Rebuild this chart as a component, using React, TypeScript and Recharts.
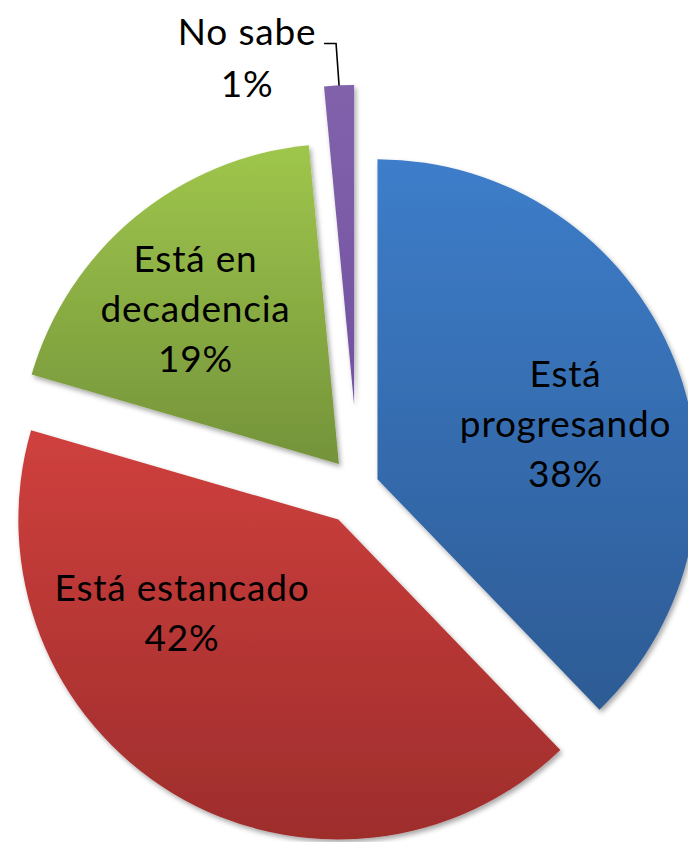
import { PieChart, Pie, Cell } from 'recharts';

const names = ['Está progresando', 'Está estancado', 'Está en decadencia', 'No sabe'];
const shares = [37.8, 41.7, 19.0, 1.5];
const pctLabels = ['38%', '42%', '19%', '1%'];
const labelLines = [['Está', 'progresando'], ['Está estancado'], ['Está en', 'decadencia'], ['No sabe']];

// how far each slice is pulled out of the pie, px
const explodeBy = [21, 38, 30, 82];
// nudges for the inside labels, px
const labelNudge = [[10, 18], [-57, -70], [-21, -6], [0, 0]];
const topColors = ['#3d7dca', '#cf403d', '#9fc64c', '#8262ab'];
const bottomColors = ['#2d5b94', '#9e2d2c', '#74933a', '#7252a1'];

const W = 688;
const H = 842;
const CX = 358;
const CY = 487;
const R = 320;
const RAD = Math.PI / 180;
const FONT = 'Lato, "Open Sans", sans-serif';
const FS = 37;
const LS = 0.8;

const data = names.map((name, i) => ({ name, value: shares[i] }));
const total = shares.reduce((a, b) => a + b, 0);

// mid angle of each slice, recharts convention (deg, ccw from 3 o'clock)
const midAngles = shares.map((v, i) => {
  const before = shares.slice(0, i).reduce((a, b) => a + b, 0);
  return 90 - (360 * (before + v / 2)) / total;
});

const renderLabel = (i: number, cx: number, cy: number) => (props: any) => {
  if (props.index !== i) return null;
  const mid = props.midAngle ?? midAngles[i];
  const cos = Math.cos(mid * RAD);
  const sin = Math.sin(mid * RAD);
  const lines = [...labelLines[i], pctLabels[i]];
  if (i === 3) {
    // outside label with leader line
    const ox = cx + R * cos;
    const oy = cy - R * sin;
    const tx = ox - 92;
    return (
      <g>
        <polyline
          points={`${ox - 15},${oy - 42} ${ox - 3},${oy - 42} ${ox},${oy}`}
          fill="none"
          stroke="#000"
          strokeWidth={1.6}
        />
        <text textAnchor="middle" fontFamily={FONT} fontSize={FS} letterSpacing={LS} fill="#000">
          {lines.map((l, k) => (
            <tspan key={k} x={tx} y={oy - 40 + k * 52}>{l}</tspan>
          ))}
        </text>
      </g>
    );
  }
  const lx = cx + R * 0.6 * cos + labelNudge[i][0];
  const ly = cy - R * 0.6 * sin + labelNudge[i][1];
  const step = 50;
  return (
    <text textAnchor="middle" fontFamily={FONT} fontSize={FS} letterSpacing={LS} fill="#000">
      {lines.map((l, k) => (
        <tspan key={k} x={lx} y={ly + (k - (lines.length - 1) / 2) * step + 12}>{l}</tspan>
      ))}
    </text>
  );
};

export default function App() {
  return (
    <div style={{ position: 'absolute', left: 0, top: 0, width: W, height: H, background: '#fff', overflow: 'hidden' }}>
      <PieChart width={W} height={H} margin={{ top: 0, right: 0, bottom: 0, left: 0 }}>
        <defs>
          {topColors.map((c, i) => (
            <linearGradient key={i} id={`g${i}`} x1="0" y1="0" x2="0" y2="1">
              <stop offset="0%" stopColor={c} />
              <stop offset="100%" stopColor={bottomColors[i]} />
            </linearGradient>
          ))}
          <filter id="shadow" x="-10%" y="-10%" width="130%" height="130%">
            <feDropShadow dx="2" dy="3" stdDeviation="2.5" floodColor="#000" floodOpacity="0.35" />
          </filter>
        </defs>
        {data.map((_, i) => {
          const cx = CX + explodeBy[i] * Math.cos(midAngles[i] * RAD);
          const cy = CY - explodeBy[i] * Math.sin(midAngles[i] * RAD);
          return (
            <Pie
              key={i}
              data={data}
              dataKey="value"
              nameKey="name"
              cx={cx}
              cy={cy}
              outerRadius={R}
              startAngle={90}
              endAngle={-270}
              isAnimationActive={false}
              labelLine={false}
              label={renderLabel(i, cx, cy)}
            >
              {data.map((d, j) => (
                <Cell
                  key={d.name}
                  fill={j === i ? `url(#g${i})` : 'none'}
                  stroke="none"
                  filter={j === i ? 'url(#shadow)' : undefined}
                />
              ))}
            </Pie>
          );
        })}
      </PieChart>
    </div>
  );
}
